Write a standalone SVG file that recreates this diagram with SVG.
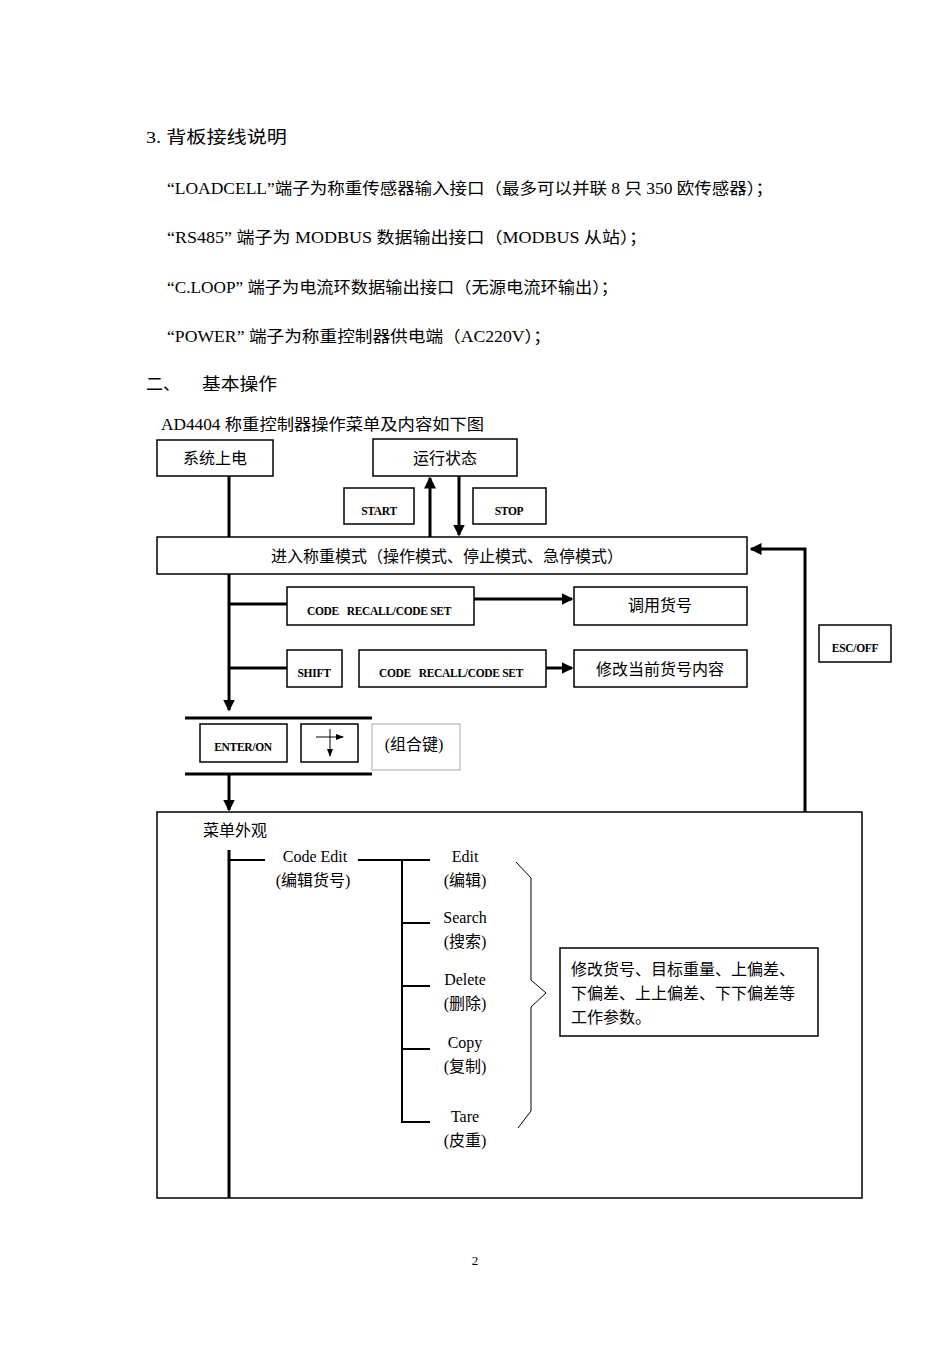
<svg xmlns="http://www.w3.org/2000/svg" width="950" height="1345" viewBox="0 0 950 1345">
<style>
.t{font-family:"Liberation Serif","Noto Sans CJK SC",serif;fill:#000}
.body{font-size:16px}
.h{font-size:17px}
.lbl{font-family:"Liberation Serif","Noto Sans CJK SC",serif;font-size:16px;fill:#000}
.key{font-family:"Liberation Serif",serif;font-size:11.5px;font-weight:bold;fill:#000;letter-spacing:-0.3px}
.box{fill:#fff;stroke:#000;stroke-width:1.5}
.gbox{fill:#fff;stroke:#aaa;stroke-width:1}
.ln{stroke:#000;stroke-width:3;fill:none}
.thin{stroke:#000;stroke-width:2;fill:none}
.br{stroke:#000;stroke-width:1;fill:none}
</style>
<defs>
<marker id="ah" markerWidth="4" markerHeight="4" refX="3.5" refY="2" orient="auto" markerUnits="strokeWidth">
<path d="M0,0 L4,2 L0,4 Z" fill="#000"/>
</marker>
<marker id="ahs" markerWidth="8" markerHeight="8" refX="7" refY="4" orient="auto" markerUnits="userSpaceOnUse">
<path d="M0,1 L8,4 L0,7 Z" fill="#000"/>
</marker>
</defs>
<rect width="950" height="1345" fill="#fff"/>

<g id="intro">
<text class="t h" x="146" y="143" textLength="141" lengthAdjust="spacingAndGlyphs">3. 背板接线说明</text>
<text class="t body" x="167" y="194" textLength="606" lengthAdjust="spacingAndGlyphs">“LOADCELL”端子为称重传感器输入接口（最多可以并联 8 只 350 欧传感器）；</text>
<text class="t body" x="167" y="243" textLength="480" lengthAdjust="spacingAndGlyphs">“RS485” 端子为 MODBUS 数据输出接口（MODBUS 从站）；</text>
<text class="t body" x="167" y="293" textLength="451" lengthAdjust="spacingAndGlyphs">“C.LOOP” 端子为电流环数据输出接口（无源电流环输出）；</text>
<text class="t body" x="167" y="342" textLength="384" lengthAdjust="spacingAndGlyphs">“POWER” 端子为称重控制器供电端（AC220V）；</text>
<text class="t h" x="146" y="390">二、</text>
<text class="t h" x="202" y="390" textLength="75" lengthAdjust="spacingAndGlyphs">基本操作</text>
<text class="t body" x="161" y="430" textLength="323" lengthAdjust="spacingAndGlyphs">AD4404 称重控制器操作菜单及内容如下图</text>
</g>

<g id="n-power"><rect class="box" x="157" y="440" width="116" height="36"/><text class="lbl" x="215" y="464" text-anchor="middle">系统上电</text></g>
<g id="n-run"><rect class="box" x="373" y="439" width="144" height="37"/><text class="lbl" x="445" y="464" text-anchor="middle">运行状态</text></g>
<g id="n-start"><rect class="box" x="344" y="488" width="70" height="36"/><text class="key" x="379" y="515" text-anchor="middle">START</text></g>
<g id="n-stop"><rect class="box" x="473" y="488" width="73" height="36"/><text class="key" x="509" y="515" text-anchor="middle">STOP</text></g>
<g id="n-mode"><rect class="box" x="157" y="537" width="590" height="37"/><text class="lbl" x="447" y="562" text-anchor="middle">进入称重模式（操作模式、停止模式、急停模式）</text></g>
<g id="n-esc"><rect class="box" x="819" y="625" width="72" height="37"/><text class="key" x="855" y="652" text-anchor="middle">ESC/OFF</text></g>
<g id="n-code1"><rect class="box" x="287" y="587" width="187" height="38"/><text class="key" x="379" y="615" text-anchor="middle" xml:space="preserve">CODE   RECALL/CODE SET</text></g>
<g id="n-recall"><rect class="box" x="574" y="587" width="173" height="38"/><text class="lbl" x="660" y="611" text-anchor="middle">调用货号</text></g>
<g id="n-shift"><rect class="box" x="287" y="650" width="55" height="37"/><text class="key" x="314" y="677" text-anchor="middle">SHIFT</text></g>
<g id="n-code2"><rect class="box" x="359" y="650" width="187" height="37"/><text class="key" x="451" y="677" text-anchor="middle" xml:space="preserve">CODE   RECALL/CODE SET</text></g>
<g id="n-modify"><rect class="box" x="574" y="650" width="173" height="37"/><text class="lbl" x="660" y="675" text-anchor="middle">修改当前货号内容</text></g>
<g id="n-enter"><rect class="box" x="200" y="724" width="87" height="38"/><text class="key" x="243" y="751" text-anchor="middle">ENTER/ON</text></g>
<g id="n-arrows"><rect class="box" x="301" y="724" width="57" height="38"/>
<line x1="316" y1="737" x2="343" y2="737" stroke="#000" stroke-width="1" marker-end="url(#ahs)"/>
<line x1="330" y1="729" x2="330" y2="756" stroke="#000" stroke-width="1" marker-end="url(#ahs)"/></g>
<g id="n-combo"><rect class="gbox" x="372" y="724" width="88" height="46"/><text class="lbl" x="414" y="750" text-anchor="middle">(组合键)</text></g>

<g id="n-menu"><rect class="box" x="157" y="812" width="705" height="386"/><text class="lbl" x="203" y="836">菜单外观</text></g>
<g id="n-codeedit"><text class="lbl" x="315" y="862" text-anchor="middle" font-size="15">Code Edit</text><text class="lbl" x="313" y="886" text-anchor="middle" font-size="15">(编辑货号)</text></g>
<g id="n-edit"><text class="lbl" x="465" y="862" text-anchor="middle" font-size="15">Edit</text><text class="lbl" x="465" y="886" text-anchor="middle" font-size="15">(编辑)</text></g>
<g id="n-search"><text class="lbl" x="465" y="923" text-anchor="middle" font-size="15">Search</text><text class="lbl" x="465" y="947" text-anchor="middle" font-size="15">(搜索)</text></g>
<g id="n-delete"><text class="lbl" x="465" y="985" text-anchor="middle" font-size="15">Delete</text><text class="lbl" x="465" y="1009" text-anchor="middle" font-size="15">(删除)</text></g>
<g id="n-copy"><text class="lbl" x="465" y="1048" text-anchor="middle" font-size="15">Copy</text><text class="lbl" x="465" y="1072" text-anchor="middle" font-size="15">(复制)</text></g>
<g id="n-tare"><text class="lbl" x="465" y="1122" text-anchor="middle" font-size="15">Tare</text><text class="lbl" x="465" y="1146" text-anchor="middle" font-size="15">(皮重)</text></g>
<g id="n-params"><rect class="box" x="560" y="948" width="258" height="88"/>
<text class="lbl" x="571" y="975">修改货号、目标重量、上偏差、</text>
<text class="lbl" x="571" y="999">下偏差、上上偏差、下下偏差等</text>
<text class="lbl" x="571" y="1023">工作参数。</text></g>

<g id="connectors">
<line class="ln" x1="229" y1="476" x2="229" y2="537"/>
<line class="ln" x1="430" y1="537" x2="430" y2="478" marker-end="url(#ah)"/>
<line class="ln" x1="459" y1="476" x2="459" y2="535" marker-end="url(#ah)"/>
<polyline class="ln" points="805,812 805,549 751,549" marker-end="url(#ah)"/>
<line class="ln" x1="229" y1="574" x2="229" y2="710" marker-end="url(#ah)"/>
<line class="ln" x1="229" y1="604" x2="287" y2="604"/>
<line class="ln" x1="474" y1="599" x2="572" y2="599" marker-end="url(#ah)"/>
<line class="ln" x1="229" y1="668" x2="287" y2="668"/>
<line class="ln" x1="546" y1="668" x2="572" y2="668" marker-end="url(#ah)"/>
<line class="ln" x1="185" y1="718" x2="372" y2="718"/>
<line class="ln" x1="185" y1="774" x2="372" y2="774"/>
<line class="ln" x1="229" y1="774" x2="229" y2="810" marker-end="url(#ah)"/>
<line class="ln" x1="229" y1="850" x2="229" y2="1198"/>
<line class="thin" x1="229" y1="860" x2="265" y2="860"/>
<line class="thin" x1="358" y1="860" x2="430" y2="860"/>
<line class="thin" x1="402" y1="860" x2="402" y2="1123"/>
<line class="thin" x1="402" y1="923" x2="430" y2="923"/>
<line class="thin" x1="402" y1="986" x2="430" y2="986"/>
<line class="thin" x1="402" y1="1049" x2="430" y2="1049"/>
<line class="thin" x1="402" y1="1122" x2="430" y2="1122"/>
<polyline class="br" points="516,862 531,878 531,980 546,993 531,1007 531,1111 518,1128"/>
</g>

<g id="page"><text class="t" x="475" y="1265" font-size="13" text-anchor="middle">2</text></g>
</svg>
